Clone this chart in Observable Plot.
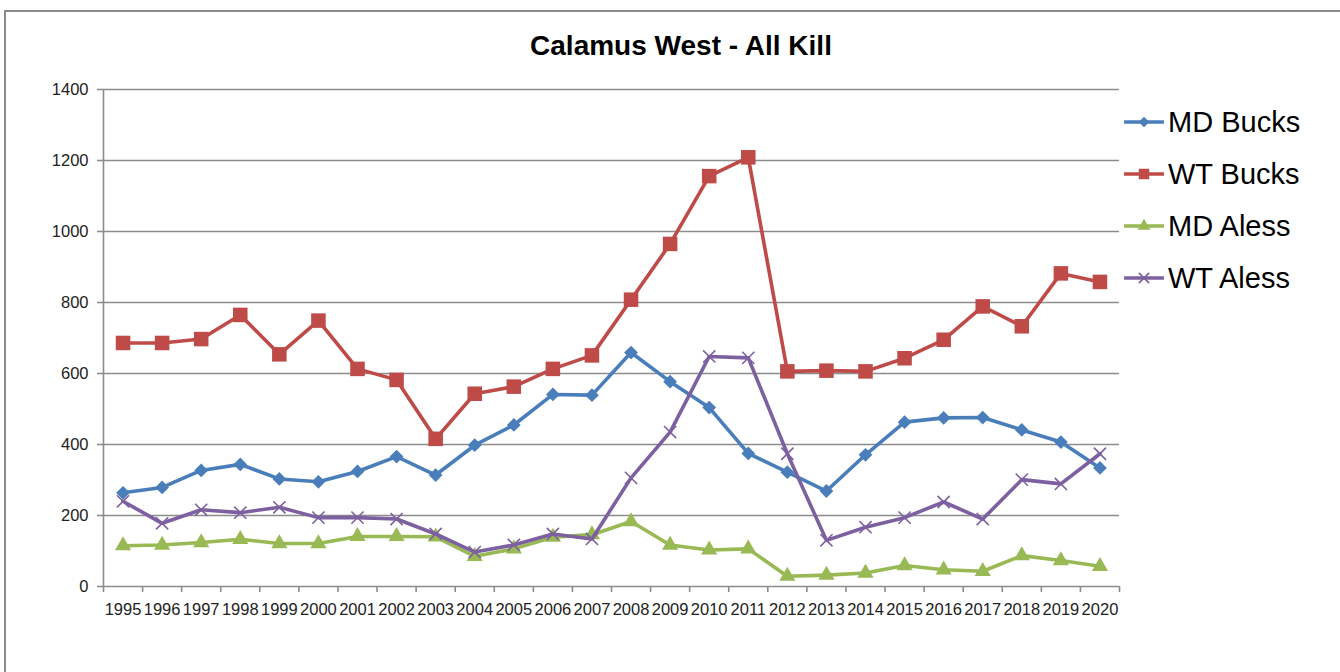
<!DOCTYPE html>
<html>
<head>
<meta charset="utf-8">
<script src="https://cdn.jsdelivr.net/npm/d3@7"></script>
<script src="https://cdn.jsdelivr.net/npm/@observablehq/plot@0.6"></script>
<style>
  html, body { margin: 0; padding: 0; background: #fff; }
  #wrap { position: relative; width: 1340px; height: 672px; overflow: hidden; font-family: "Liberation Sans", Arial, sans-serif; }
  #border { position: absolute; left: 4px; top: 10px; width: 1400px; height: 700px; border-left: 2px solid #8c8c8c; border-top: 2px solid #8c8c8c; }
  #title { position: absolute; left: 0; width: 1362px; top: 30px; text-align: center; font-weight: bold; font-size: 28px; color: #000; }
  #legend { position: absolute; left: 1124px; top: 96px; }
  .lg { display: flex; align-items: center; height: 52px; font-size: 29px; color: #000; }
  .lg svg { margin-right: 4px; }
  #chart { position: absolute; left: 0; top: 0; }
</style>
</head>
<body>
<div id="wrap">
  <div id="border"></div>
  <div id="chart"></div>
  <div id="title">Calamus West - All Kill</div>
  <div id="legend"></div>
</div>
<script>
const years = [1995,1996,1997,1998,1999,2000,2001,2002,2003,2004,2005,2006,2007,2008,2009,2010,2011,2012,2013,2014,2015,2016,2017,2018,2019,2020];
const mdBucks = [264,279,327,344,303,295,324,366,314,398,455,541,539,659,577,504,375,322,269,371,463,475,476,441,407,334];
const wtBucks = [686,686,697,765,654,749,613,582,416,543,563,613,651,808,965,1156,1209,606,608,606,643,695,789,733,882,858];
const mdAless = [115,117,124,133,121,121,141,141,140,85,106,139,146,183,117,103,106,29,32,38,59,47,43,87,73,57];
const wtAless = [240,178,216,208,223,194,194,190,148,97,117,148,134,306,435,648,644,374,130,167,194,238,190,301,289,374];
const seriesNames = ["MD Bucks","WT Bucks","MD Aless","WT Aless"];
const seriesValues = [mdBucks, wtBucks, mdAless, wtAless];
const seriesColors = ["#4A7EBB","#BE4B48","#98B954","#7D60A0"];
const seriesSymbols = ["diamond2","square","triangle","times"];
const seriesR = [6.2, 8.2, 6.0, 5.6];
const yTicks = [0,200,400,600,800,1000,1200,1400];

const rows = [];
seriesNames.forEach((s, i) => years.forEach((yr, j) => rows.push({series: s, year: yr, value: seriesValues[i][j]})));

const xDomain = [years[0] - 0.5, years[years.length - 1] + 0.5];
const boundaries = years.map(y => y - 0.5).concat([years[years.length - 1] + 0.5]);
const grid = "#8c8c8c";

const marks = [
  Plot.ruleY(yTicks.slice(1), {y: d => d, stroke: grid, strokeWidth: 1.6}),
  Plot.ruleY([0], {stroke: grid, strokeWidth: 1.6}),
  Plot.ruleX([xDomain[0]], {stroke: grid, strokeWidth: 1.6}),
  Plot.axisY(yTicks, {label: null, tickSize: 6, tickPadding: 9, stroke: grid, strokeWidth: 1.6, fill: "#222", fontSize: 16.5, tickFormat: d => String(d)}),
  Plot.axisX(boundaries, {label: null, tickSize: 6, stroke: grid, strokeWidth: 1.6, tickFormat: () => ""}),
  Plot.axisX(years, {label: null, tickSize: 0, tickPadding: 17, fill: "#222", fontSize: 16.5, tickFormat: d => String(d)})
];
seriesNames.forEach((s, i) => {
  const d = rows.filter(r => r.series === s);
  marks.push(Plot.line(d, {x: "year", y: "value", stroke: seriesColors[i], strokeWidth: 3.6, strokeLinejoin: "round", strokeLinecap: "round"}));
  if (seriesSymbols[i] === "times") {
    marks.push(Plot.dot(d, {x: "year", y: "value", symbol: "times", r: seriesR[i], stroke: seriesColors[i], strokeWidth: 1.6, fill: "none"}));
  } else {
    marks.push(Plot.dot(d, {x: "year", y: "value", symbol: seriesSymbols[i], r: seriesR[i], fill: seriesColors[i], stroke: "none"}));
  }
});

const chart = Plot.plot({
  width: 1340,
  height: 672,
  marginLeft: 103,
  marginRight: 221,
  marginTop: 89,
  marginBottom: 86,
  style: {fontFamily: "Liberation Sans, Arial, sans-serif", fontSize: "16.5px", background: "transparent", overflow: "visible"},
  x: {type: "linear", domain: xDomain, axis: null, label: null},
  y: {domain: [0, 1400], axis: null, label: null},
  marks
});
document.getElementById("chart").appendChild(chart);

// Legend
const legend = document.getElementById("legend");
seriesNames.forEach((s, i) => {
  const row = document.createElement("div");
  row.className = "lg";
  const sym = d3.symbol(d3["symbol" + seriesSymbols[i].charAt(0).toUpperCase() + seriesSymbols[i].slice(1)], seriesSymbols[i] === "square" ? 110 : 70)();
  const markerAttrs = seriesSymbols[i] === "times"
    ? `fill="none" stroke="${seriesColors[i]}" stroke-width="1.6"`
    : `fill="${seriesColors[i]}"`;
  row.innerHTML = `<svg width="40" height="20"><line x1="1" y1="10" x2="39" y2="10" stroke="${seriesColors[i]}" stroke-width="3.6" stroke-linecap="round"/><path transform="translate(20,10)" d="${sym}" ${markerAttrs}/></svg><span>${s}</span>`;
  legend.appendChild(row);
});
</script>
</body>
</html>
